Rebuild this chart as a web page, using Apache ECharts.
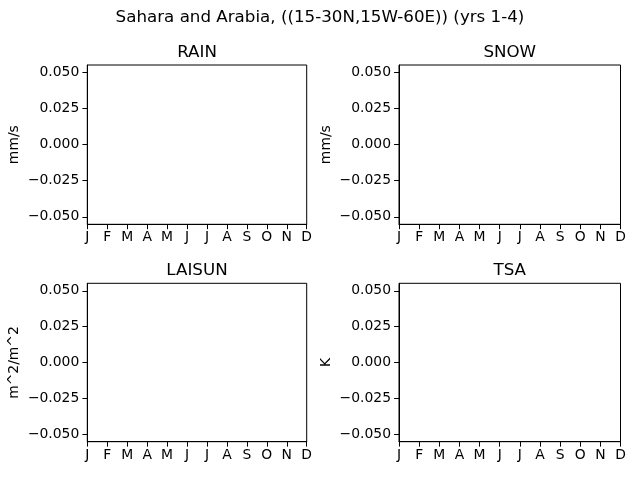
<!DOCTYPE html>
<html>
<head>
<meta charset="utf-8">
<script src="https://cdn.jsdelivr.net/npm/echarts@6/dist/echarts.min.js"></script>
<style>html,body{margin:0;padding:0;background:#fff}#c{width:640px;height:480px}</style>
</head>
<body>
<div id="c"></div>
<script>
var months = ['J','F','M','A','M','J','J','A','S','O','N','D'];
var yTicks = [-0.05, -0.025, 0, 0.025, 0.05];
var panelTitles = ['RAIN','SNOW','LAISUN','TSA'];
var panelUnits = ['mm/s','mm/s','m^2/m^2','K'];
var rainValues = [null,null,null,null,null,null,null,null,null,null,null,null];
var snowValues = [null,null,null,null,null,null,null,null,null,null,null,null];
var laisunValues = [null,null,null,null,null,null,null,null,null,null,null,null];
var tsaValues = [null,null,null,null,null,null,null,null,null,null,null,null];
var suptitle = 'Sahara and Arabia, ((15-30N,15W-60E)) (yrs 1-4)';

var FONT = 'DejaVu Sans';
var grids = [
  {left:87.3, top:65, width:219.4, height:159.3},
  {left:399, top:65, width:221.5, height:159.3},
  {left:87.3, top:283.3, width:219.4, height:158.4},
  {left:399, top:283.3, width:221.5, height:158.4}
];
var seriesData = [rainValues, snowValues, laisunValues, tsaValues];

function fmtY(v){
  var s = Math.abs(v).toFixed(3);
  return (v < -1e-12 ? '\u2212' : '') + s;
}

var option = {
  animation:false,
  backgroundColor:'#fff',
  title: [{text:suptitle, left:320, top:9, textAlign:'center', padding:0,
           textStyle:{fontFamily:FONT, fontSize:16.7, fontWeight:'normal', color:'#000'}}]
    .concat(panelTitles.map(function(t,i){
      var g = grids[i];
      return {text:t, left:g.left+g.width/2, top:g.top-21, textAlign:'center', padding:0,
              textStyle:{fontFamily:FONT, fontSize:16.7, fontWeight:'normal', color:'#000'}};
    })),
  grid: grids.map(function(g){
    return {left:g.left, top:g.top, width:g.width, height:g.height, show:true,
            borderColor:'#000', borderWidth:1, backgroundColor:'transparent', containLabel:false};
  }),
  xAxis: grids.map(function(g,i){
    return {type:'category', gridIndex:i, data:months, boundaryGap:false, position:'bottom',
      axisLine:{show:true, onZero:false, lineStyle:{color:'#000', width:1}},
      axisTick:{show:true, inside:false, length:4.9, alignWithLabel:true, lineStyle:{color:'#000'}},
      axisLabel:{show:true, interval:0, margin:6.5, color:'#000', fontFamily:FONT, fontSize:13.9},
      splitLine:{show:false}};
  }),
  yAxis: grids.map(function(g,i){
    return {type:'value', gridIndex:i, min:-0.0552, max:0.0552, position:'left',
      name:panelUnits[i], nameLocation:'middle', nameRotate:90, nameGap:66,
      nameTextStyle:{fontFamily:FONT, fontSize:13.9, color:'#000'},
      axisLine:{show:true, onZero:false, lineStyle:{color:'#000', width:1}},
      axisTick:{show:true, length:4.9, lineStyle:{color:'#000'}, customValues:yTicks},
      axisLabel:{show:true, margin:8, color:'#000', fontFamily:FONT, fontSize:13.9,
                 customValues:yTicks, formatter:fmtY},
      splitLine:{show:false}};
  }),
  series: seriesData.map(function(d,i){
    return {type:'line', xAxisIndex:i, yAxisIndex:i, data:d, showSymbol:false,
            lineStyle:{color:'#1f77b4', width:1.5}};
  })
};
var chart = echarts.init(document.getElementById('c'), null, {renderer:'canvas'});
chart.setOption(option);
</script>
</body>
</html>
